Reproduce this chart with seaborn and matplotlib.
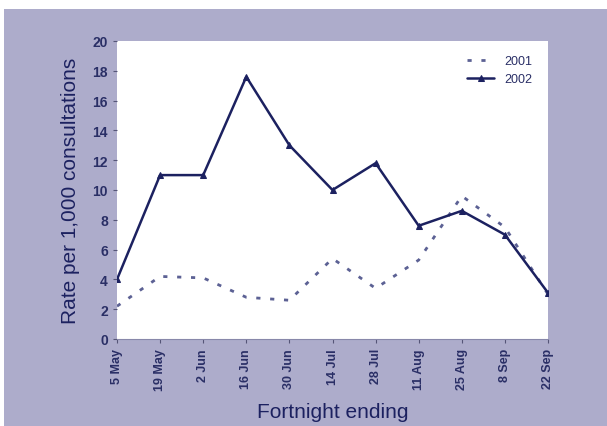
import matplotlib
matplotlib.use("Agg")
import matplotlib.pyplot as plt
import matplotlib.patches as mpatches
import seaborn as sns
import pandas as pd

fortnights = ["5 May", "19 May", "2 Jun", "16 Jun", "30 Jun", "14 Jul",
              "28 Jul", "11 Aug", "25 Aug", "8 Sep", "22 Sep"]
rate_2001 = [2.2, 4.2, 4.1, 2.8, 2.6, 5.4, 3.4, 5.3, 9.6, 7.5, 3.0]
rate_2002 = [4.0, 11.0, 11.0, 17.6, 13.0, 10.0, 11.8, 7.6, 8.6, 7.0, 3.1]

navy = "#1c2160"
tickcol = "#2a2f66"
bg = "#adaccb"

df = pd.DataFrame({"pos": range(len(fortnights)),
                   "r2001": rate_2001, "r2002": rate_2002})

sns.set_style("ticks")
plt.rcParams['font.family'] = ['Liberation Sans', 'DejaVu Sans']

fig = plt.figure(figsize=(6.07, 4.27), dpi=100, facecolor="white")
# lavender panel behind the chart (white margin at top and left)
fig.patches.append(mpatches.Rectangle((4/607, 0), 1, 1 - 10/427,
                                      transform=fig.transFigure,
                                      facecolor=bg, edgecolor="none", zorder=-1))

ax = fig.add_axes([117/607, 1-340/427, (548-117)/607, (340-42)/427])
ax.set_facecolor("white")

sns.lineplot(x="pos", y="r2001", data=df, ax=ax, color="#5c6194",
             linestyle=(0, (1.5, 3.5)), linewidth=2, label="2001")
sns.lineplot(x="pos", y="r2002", data=df, ax=ax, color=navy,
             linewidth=1.8, marker="^", markersize=4.5, markeredgecolor=navy,
             label="2002")

ax.set_xlim(0, len(fortnights) - 1)
ax.set_ylim(0, 20)
ax.set_yticks(range(0, 21, 2))
ax.set_xticks(range(len(fortnights)))
ax.set_xticklabels(fortnights, rotation=90, fontsize=9, color=tickcol,
                   fontweight="bold")
for lab in ax.get_yticklabels():
    lab.set_fontweight("bold")
ax.tick_params(axis="y", labelsize=10, labelcolor=tickcol, length=3, color="#555577")
ax.tick_params(axis="x", length=3, color="#555577")
for s in ["top", "right"]:
    ax.spines[s].set_visible(False)
ax.spines["left"].set_visible(False)
ax.spines["bottom"].set_color("#8888aa")

ax.set_xlabel("Fortnight ending", fontsize=15, color=navy, labelpad=9)
ax.set_ylabel("Rate per 1,000 consultations", fontsize=15, color=navy, labelpad=9)

leg = ax.legend(loc="upper right", frameon=False, fontsize=9, handlelength=2.2,
                bbox_to_anchor=(0.99, 0.99))
for t in leg.get_texts():
    t.set_color(tickcol)

fig.savefig("out.png", dpi=100, facecolor="white")
